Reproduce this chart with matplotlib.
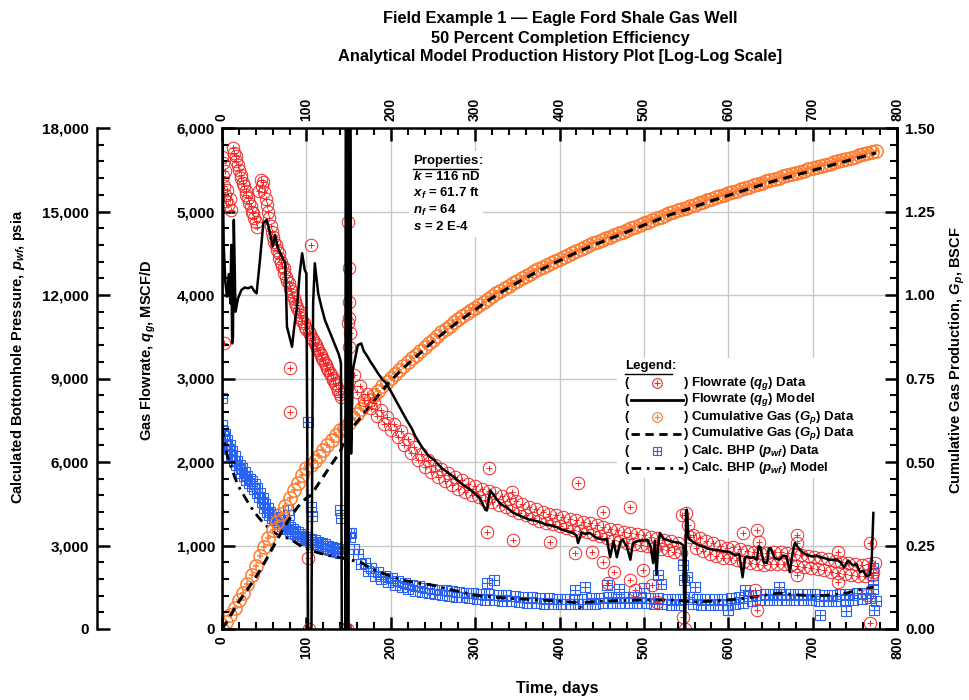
import numpy as np
import matplotlib.pyplot as plt
from matplotlib.lines import Line2D
from matplotlib.patches import Rectangle
from matplotlib.ticker import MultipleLocator, FuncFormatter

plt.rcParams['font.family'] = ['Liberation Sans', 'DejaVu Sans']
plt.rcParams['mathtext.fontset'] = 'custom'
plt.rcParams['mathtext.rm'] = 'Liberation Sans'
plt.rcParams['mathtext.it'] = 'Liberation Sans:italic'
plt.rcParams['mathtext.bf'] = 'Liberation Sans:bold'
plt.rcParams['mathtext.bfit'] = 'Liberation Sans:bold:italic'

# ---------------- data ----------------
# gas flowrate data, MSCF/D
qg_days = [0, 1, 1, 2, 2, 3, 4, 5, 6, 7, 9, 11,
           13, 14, 16, 17, 19, 20, 22, 23, 25, 26, 28, 29, 31, 32, 34, 35, 37, 38, 40, 41,
           44, 46, 47, 49, 50, 52, 53, 55, 56, 58, 59, 61, 62, 64, 65, 67, 68, 70, 71, 73,
           74, 76, 77, 79, 80, 82, 83, 85, 86, 88, 89, 91, 92, 94, 95, 97, 98, 100,
           103, 104, 107, 108, 110, 111, 113, 114, 116, 117, 119, 120, 122, 123, 125, 126,
           128, 129, 131, 132, 134, 135, 137, 138, 140, 141,
           80, 81, 102, 103, 106, 146, 148, 149, 150, 150, 151, 149, 152, 151,
           156, 160, 164, 168, 172, 176, 180, 184, 188, 192, 196, 200, 204, 208, 212, 216,
           220, 224, 228, 232, 236, 240, 244, 248, 252, 256, 260, 264, 268, 272, 276, 280,
           284, 288, 292, 296, 300, 304, 308, 312, 316, 320, 324, 328, 332, 336, 340, 344,
           348, 352, 356, 360, 364, 368, 372, 376, 380, 384, 388, 392, 396, 400, 404, 408,
           412, 416, 420, 424, 428, 432, 436, 440, 444, 448, 452, 456, 460, 464, 468, 472,
           476, 480, 484, 488, 492, 496, 500, 504, 508, 512, 516, 520, 524, 528, 532, 536,
           540, 544,
           552, 555, 558, 562, 566, 570, 574, 578, 582, 586, 590, 594, 598, 602, 606, 610,
           614, 618, 622, 626, 630, 634, 638, 642, 646, 650, 654, 658, 662, 666, 670, 674,
           678, 682, 686, 690, 694, 698, 702, 706, 710, 714, 718, 722, 726, 730, 734, 738,
           742, 746, 750, 754, 758, 762, 766, 770, 774,
           314, 316, 344, 345, 389, 418, 422, 438, 452, 452, 458, 464, 484, 484, 490, 499,
           510, 515, 545, 546, 549, 550, 617, 632, 634, 634, 636, 681, 681, 681, 730, 730,
           764, 768, 768, 772]
qg_data = [5650, 5580, 5420, 3420, 5300, 5480, 5200, 5120, 5260, 5080, 5150, 5020,
           5760, 5700, 5660, 5600, 5560, 5500, 5440, 5400, 5340, 5300, 5250, 5200, 5160, 5100,
           5060, 5000, 4980, 4920, 4880, 4820,
           5250, 5380, 5300, 5350, 5230, 5150, 5080, 5000, 4920, 4830, 4760, 4700, 4640, 4600,
           4540, 4500, 4440, 4400, 4350, 4320, 4260, 4220, 4170, 4140, 4080, 4050, 4000, 3970,
           3920, 3880, 3840, 3810, 3760, 3730, 3690, 3660, 3620, 3590,
           3560, 3530, 3490, 3460, 3430, 3400, 3370, 3340, 3310, 3280, 3250, 3220, 3190, 3160,
           3130, 3100, 3070, 3040, 3010, 2980, 2950, 2920, 2880, 2850, 2810, 2780,
           3130, 2600, 850, 0, 4600, 0, 0, 4870, 4320, 3920, 3720, 3660, 3550, 3380,
           3040, 2840, 2912, 2744, 2814, 2642, 2710, 2546, 2622, 2460, 2540, 2380, 2457, 2294,
           2371, 2203, 2277, 2110, 2182, 2020, 2100, 1940, 2028, 1876, 1968, 1824, 1920, 1772,
           1864, 1720, 1820, 1680, 1780, 1640, 1742, 1606, 1710, 1576, 1682, 1548, 1654, 1520,
           1624, 1488, 1592, 1456, 1560, 1424, 1528, 1392, 1496, 1360, 1464, 1328, 1432, 1296,
           1400, 1271, 1382, 1253, 1364, 1235, 1344, 1213, 1322, 1191, 1300, 1172, 1284, 1156,
           1268, 1140, 1248, 1116, 1224, 1092, 1200, 1071, 1182, 1053, 1164, 1035, 1148, 1021,
           1134, 1007, 1120, 992, 1104, 976, 1088, 960, 1071, 942, 1053, 924, 1035, 907,
           1250, 1100, 1130, 972, 1094, 935, 1057, 899, 1024, 872, 1000, 848, 976, 850,
           980, 830, 958, 806, 938, 791, 922, 775, 908, 767, 911, 775, 919, 783, 922, 778,
           912, 768, 900, 757, 889, 745, 876, 733, 864, 718, 850, 702, 834, 686, 818, 670,
           802, 654, 788, 644, 780, 636, 772, 633, 780, 647, 794,
           1160, 1930, 1640, 1070, 1040, 910, 1750, 920, 1400, 800, 550, 680, 1460, 590,
           470, 710, 530, 320, 1370, 140, 0, 1390, 1150, 470, 1190, 230, 1040, 1130,
           1030, 650, 920, 560, 410, 1030, 70, 680]

# flowrate model, MSCF/D
qm_days = [0, 0.5, 2, 4, 6, 8, 10, 11, 12, 13, 14, 16, 19, 23, 27, 31, 35, 38, 41, 45,
           49, 53, 57, 60, 63, 66, 71, 75, 77, 80, 83, 86, 89, 92, 95, 98, 100, 101, 102,
           106, 107, 108, 110, 114, 118, 122, 126, 130, 134, 138, 140, 141, 142, 146, 147,
           148, 149, 150, 151, 152, 153, 155, 158, 161, 165, 168, 172, 176, 180, 185, 190,
           195, 201, 207, 213, 219, 225, 229, 237, 244, 252, 260, 268, 276, 284, 291, 298,
           306, 312, 314, 318, 325, 331, 337, 344, 350, 357, 364, 370, 377, 384, 390, 397,
           403, 410, 416, 420, 422, 426, 431, 436, 444, 452, 456, 460, 464, 468, 472, 475,
           480, 484, 487, 492, 498, 504, 508, 511, 513, 515, 517, 519, 523, 527, 532, 537,
           543, 547, 548, 549, 550, 551, 553, 555, 560, 566, 572, 577, 582, 590, 596, 602,
           608, 613, 617, 620, 622, 626, 630, 634, 636, 638, 642, 646, 648, 650, 655, 660,
           665, 669, 673, 676, 679, 684, 689, 695, 700, 705, 709, 714, 719, 724, 729, 733,
           737, 742, 748, 752, 756, 760, 764, 768, 770, 772]
qm_model = [0, 5900, 4600, 4150, 3980, 4250, 3900, 4600, 3420, 3500, 4900, 3800, 3960, 4060,
            4090, 4080, 4100, 4050, 4020, 4420, 4860, 4900, 4740, 4580, 4720, 4570, 4460,
            4380, 3620, 3500, 3380, 3650, 3860, 4250, 4500, 4300, 4260, 2400, 0, 0, 2200,
            3900, 4380, 4020, 3850, 3700, 3600, 3500, 3400, 3300, 3230, 3180, 0, 0, 9000,
            9000, 0, 0, 9000, 9000, 2100, 3100, 3250, 3400, 3420, 3330, 3270, 3200, 3140,
            3060, 2990, 2940, 2830, 2720, 2610, 2500, 2400, 2310, 2180, 2080, 2020, 1930,
            1870, 1810, 1740, 1690, 1640, 1560, 1430, 1420, 1660, 1560, 1490, 1460, 1400,
            1370, 1340, 1310, 1300, 1280, 1250, 1240, 1220, 1190, 1170, 1150, 1120, 1030,
            1150, 1140, 1150, 1090, 1070, 1080, 860, 1050, 860, 1040, 1070, 980, 830, 1030,
            1050, 1060, 1070, 990, 790, 1060, 650, 1000, 1150, 1080, 1070, 1050, 1040, 1030,
            1000, 0, 0, 1420, 1430, 1080, 1070, 1030, 1000, 980, 960, 950, 940, 930, 920,
            880, 900, 620, 860, 870, 850, 860, 830, 990, 980, 800, 790, 960, 970, 850, 830,
            880, 870, 680, 900, 1030, 960, 910, 880, 870, 880, 860, 850, 830, 830, 830, 800,
            740, 820, 760, 780, 680, 700, 630, 650, 820, 1390]

# cumulative gas data, BSCF (every 5 days)
gp_days = list(range(0, 780, 5))
gp_data = [0.000, 0.020, 0.042, 0.064, 0.086, 0.108, 0.135, 0.162, 0.190, 0.218, 0.245,
           0.271, 0.296, 0.321, 0.345, 0.369, 0.392, 0.415, 0.438, 0.460, 0.482, 0.490,
           0.503, 0.519, 0.535, 0.551, 0.566, 0.581, 0.595, 0.603, 0.617, 0.631, 0.645,
           0.659, 0.673, 0.687, 0.700, 0.714, 0.727, 0.740, 0.752, 0.764, 0.776, 0.787,
           0.799, 0.810, 0.821, 0.833, 0.844, 0.855, 0.866, 0.877, 0.888, 0.898, 0.908,
           0.918, 0.927, 0.936, 0.945, 0.954, 0.962, 0.971, 0.980, 0.989, 0.997, 1.005,
           1.013, 1.021, 1.028, 1.036, 1.043, 1.050, 1.057, 1.064, 1.071, 1.078, 1.084,
           1.091, 1.097, 1.103, 1.109, 1.115, 1.121, 1.127, 1.133, 1.138, 1.144, 1.149,
           1.155, 1.160, 1.165, 1.170, 1.175, 1.180, 1.185, 1.190, 1.195, 1.200, 1.205,
           1.210, 1.215, 1.220, 1.225, 1.230, 1.235, 1.240, 1.245, 1.250, 1.254, 1.258,
           1.261, 1.265, 1.270, 1.274, 1.279, 1.283, 1.288, 1.292, 1.296, 1.300, 1.304,
           1.308, 1.312, 1.316, 1.320, 1.324, 1.328, 1.332, 1.336, 1.340, 1.344, 1.348,
           1.351, 1.355, 1.358, 1.362, 1.365, 1.369, 1.372, 1.376, 1.379, 1.383, 1.386,
           1.390, 1.393, 1.397, 1.400, 1.404, 1.407, 1.411, 1.414, 1.418, 1.421, 1.425,
           1.428, 1.431]

# cumulative gas model, BSCF
gpm_days = [0, 5, 10, 15, 20, 25, 30, 35, 40, 45, 50, 55, 60, 65, 70, 75, 80, 85, 90, 95,
            100, 105, 110, 115, 120, 125, 130, 135, 140, 145, 150, 155, 160, 165, 170, 175,
            180, 185, 190, 195, 200, 210, 220, 230, 240, 250, 260, 270, 280, 290, 300, 310,
            320, 330, 340, 350, 360, 370, 380, 390, 400, 410, 420, 430, 440, 450, 460, 470,
            480, 490, 500, 510, 520, 530, 540, 550, 560, 570, 580, 590, 600, 610, 620, 630,
            640, 650, 660, 670, 680, 690, 700, 710, 720, 730, 740, 750, 760, 770, 775]
gpm_model = [0.000, 0.018, 0.040, 0.062, 0.082, 0.100, 0.118, 0.136, 0.155, 0.175, 0.197,
             0.220, 0.243, 0.266, 0.288, 0.310, 0.330, 0.349, 0.366, 0.380, 0.392, 0.400,
             0.418, 0.437, 0.456, 0.475, 0.494, 0.512, 0.530, 0.565, 0.590, 0.605, 0.620,
             0.636, 0.652, 0.667, 0.683, 0.699, 0.714, 0.729, 0.743, 0.769, 0.793, 0.815,
             0.838, 0.860, 0.881, 0.901, 0.920, 0.938, 0.955, 0.974, 0.991, 1.007, 1.022,
             1.037, 1.051, 1.065, 1.078, 1.091, 1.103, 1.115, 1.127, 1.138, 1.149, 1.159,
             1.169, 1.179, 1.189, 1.199, 1.209, 1.219, 1.229, 1.239, 1.248, 1.255, 1.264,
             1.273, 1.282, 1.290, 1.298, 1.306, 1.314, 1.322, 1.330, 1.338, 1.345, 1.352,
             1.359, 1.366, 1.373, 1.380, 1.387, 1.394, 1.401, 1.408, 1.415, 1.422, 1.425]

# calculated bottomhole pressure data, psia
pwf_days = [0, 0, 1, 2, 3, 4, 5, 6, 8, 9, 11, 12, 14, 15, 17, 18, 20, 21, 23, 24, 26, 27,
            29, 30, 32, 33, 35, 36, 38, 39, 41, 42, 44, 45, 47, 48, 50, 51, 53, 54, 56, 57,
            59, 60, 62, 63, 65, 66, 68, 69, 71, 72, 74, 75, 77, 78, 80, 81, 83, 84, 86, 87,
            89, 90, 92, 93, 95, 96, 98, 99, 104, 106, 108, 110, 112, 114, 116, 118, 120, 122,
            124, 126, 128, 130, 132, 134, 136, 138, 140, 142,
            78, 79, 102, 106, 107, 140, 141, 145, 146, 147, 150, 152,
            153, 157, 161, 165, 169, 173, 177, 181, 185, 189, 193, 197, 201, 205, 209, 213,
            217, 221, 225, 229, 233, 237, 241, 245, 249, 253, 257, 261, 265, 269, 273, 277,
            281, 285, 289, 293, 297, 302, 307, 312, 317, 322, 327, 332, 337, 342, 347, 352,
            357, 362, 367, 372, 377, 382, 387, 392, 397, 402, 407, 412, 417, 422, 427, 432,
            437, 442, 447, 452, 457, 462, 467, 472, 477, 482, 487, 492, 497, 502, 507, 512,
            517, 522, 527, 532, 537, 542, 546,
            553, 558, 563, 568, 573, 578, 583, 588, 593, 598, 603, 608, 613, 618, 623, 628,
            633, 638, 643, 648, 653, 658, 663, 668, 673, 678, 683, 688, 693, 698, 703, 708,
            713, 718, 723, 728, 733, 738, 743, 748, 753, 758, 763, 768, 772,
            314, 322, 418, 430, 456, 470, 500, 517, 520, 546, 547, 551, 560, 600, 620, 660,
            709, 740, 771, 772, 773, 775]
pwf_data = [8300, 7330, 7100, 6950, 6800, 7000, 6650, 6800, 6450, 6600, 6250, 6400, 6050,
            6200, 5900, 6050, 5750, 5900, 5620, 5780, 5500, 5650, 5350, 5500, 5230, 5400,
            5130, 5300, 5030, 5200, 4900, 5080, 4750, 4900, 4550, 4700, 4350, 4500, 4200,
            4350, 4080, 4220, 3980, 4120, 3900, 4040, 3830, 3960, 3760, 3900, 3700, 3840,
            3640, 3780, 3580, 3720, 3520, 3650, 3460, 3590, 3400, 3530, 3340, 3470, 3280,
            3410, 3230, 3350, 3180, 3300, 3120, 3250, 3070, 3190, 3020, 3140, 2970, 3090,
            2920, 3040, 2870, 2990, 2830, 2940, 2790, 2900, 2750, 2860, 2720, 2820,
            4280, 4100, 7440, 4380, 4050, 4280, 4000, 0, 0, 0, 3450, 3300,
            3440, 2860, 2710, 2340, 2370, 2080, 2180, 1920, 2030, 1790, 1920, 1690, 1820,
            1590, 1730, 1510, 1650, 1440, 1590, 1380, 1530, 1325, 1485, 1285, 1445, 1250,
            1415, 1220, 1385, 1190, 1355, 1160, 1325, 1132, 1300, 1108, 1276, 1075, 1267,
            1059, 1251, 1043, 1235, 1022, 1215, 1004, 1190, 977, 1163, 950, 1136, 922, 1108,
            898, 1096, 894, 1092, 890, 1087, 885, 1083, 882, 1091, 897, 1107, 915, 1124, 932,
            1140, 940, 1140, 940, 1140, 940, 1140, 940, 1140, 932, 1124, 910, 1102, 895,
            1087, 880, 1078, 875, 1070,
            1160, 900, 1080, 860, 1080, 860, 1080, 860, 1080, 860, 1102, 905, 1147, 950, 1192,
            995, 1237, 1030, 1260, 1040, 1260, 1040, 1260, 1040, 1260, 1040, 1258, 1033, 1249,
            1025, 1240, 1016, 1231, 1006, 1232, 1020, 1249, 1037, 1266, 1055, 1285, 1075,
            1306, 1130, 1440,
            1650, 1750, 1400, 1500, 1580, 1450, 1480, 1940, 1600, 2300, 1760, 1870, 1500, 700,
            1400, 1500, 500, 650, 1760, 2200, 680, 1000]

# bottomhole pressure model, psia
pwm_days = [0, 3, 6, 10, 15, 20, 27, 35, 43, 50, 57, 63, 70, 75, 80, 85, 95, 102, 110, 125,
            135, 142, 148, 155, 166, 178, 190, 200, 213, 230, 249, 265, 284, 298, 320, 340,
            360, 377, 400, 415, 420, 424, 428, 440, 450, 470, 495, 515, 535, 549, 563, 580,
            600, 622, 640, 661, 680, 701, 720, 740, 764, 772]
pwm_model = [7250, 6700, 6250, 5900, 5460, 5100, 4740, 4350, 4020, 3780, 3580, 3450, 3300,
             3280, 3260, 3150, 2950, 2870, 2770, 2650, 2590, 2550, 2500, 2460, 2370, 2150,
             2010, 1900, 1760, 1660, 1580, 1450, 1330, 1220, 1150, 1100, 1070, 1040, 1000,
             960, 940, 760, 950, 980, 1000, 1020, 1040, 1040, 1040, 1000, 970, 1000, 1040,
             1110, 1200, 1290, 1230, 1190, 1220, 1290, 1470, 1500]

properties = ["116 nD", "61.7 ft", "64", "2 E-4"]

RED = '#f02828'
ORANGE = '#ff7a2e'
BLUE = '#2a63f2'

# ---------------- figure ----------------
W, H = 969, 700
fig = plt.figure(figsize=(W / 100, H / 100), dpi=100)


def fx(px):
    return px / W


def fy(py):
    return 1 - py / H


pos = [fx(222), fy(629), 675 / W, 501 / H]

ax_bg = fig.add_axes(pos, zorder=0)
ax_p = fig.add_axes(pos, zorder=1)
ax_g = fig.add_axes(pos, zorder=2)
ax = fig.add_axes(pos, zorder=3)

for a in (ax_bg, ax_p, ax_g, ax):
    a.set_xlim(0, 800)
for a in (ax_p, ax_g, ax):
    a.patch.set_visible(False)

# background: grid only
ax_bg.set_ylim(0, 6000)
ax_bg.xaxis.set_major_locator(MultipleLocator(100))
ax_bg.yaxis.set_major_locator(MultipleLocator(1000))
ax_bg.set_axisbelow(True)
ax_bg.grid(True, color='#c8c8c8', lw=1.0)
ax_bg.tick_params(which='both', length=0, labelleft=False, labelbottom=False)
for s in ax_bg.spines.values():
    s.set_visible(False)
# white boxes behind the annotation blocks
ax_bg.add_patch(Rectangle((fx(409), fy(237)), fx(483) - fx(409), fy(151) - fy(237),
                          transform=fig.transFigure, facecolor='white', edgecolor='none',
                          zorder=1, clip_on=False))
ax_bg.add_patch(Rectangle((fx(617), fy(478)), fx(892) - fx(617), fy(358) - fy(478),
                          transform=fig.transFigure, facecolor='white', edgecolor='none',
                          zorder=1, clip_on=False))

tick_font = dict(fontsize=11, fontweight='bold')


def style_ticks(a, axis):
    a.tick_params(axis=axis, which='major', direction='in', length=9, width=1.8)
    a.tick_params(axis=axis, which='minor', direction='in', length=5, width=1.5)


def plus_marks(a, t, v, color, shape, ms, pms, mew=0.8):
    a.plot(t, v, ls='none', marker=shape, ms=ms, mfc='none', mec=color, mew=mew)
    a.plot(t, v, ls='none', marker='+', ms=pms, mec=color, mew=mew)


# pressure axis (far left)
ax_p.set_ylim(0, 18000)
ax_p.xaxis.set_visible(False)
for k in ('right', 'top', 'bottom'):
    ax_p.spines[k].set_visible(False)
ax_p.spines['left'].set_position(('axes', (97 - 222) / 675))
ax_p.spines['left'].set_linewidth(1.8)
ax_p.yaxis.set_major_locator(MultipleLocator(3000))
ax_p.yaxis.set_minor_locator(MultipleLocator(600))
ax_p.yaxis.set_major_formatter(FuncFormatter(lambda v, _: f'{v:,.0f}'))
style_ticks(ax_p, 'y')
ax_p.tick_params(axis='y', pad=6)
for lab in ax_p.get_yticklabels():
    lab.set(**tick_font)
plus_marks(ax_p, pwf_days, pwf_data, BLUE, 's', 7.5, 7.5)
ax_p.plot(pwm_days, pwm_model, color='black', lw=2.0, ls=(0, (3.5, 2, 1, 2)))

# cumulative gas axis (right)
ax_g.set_ylim(0, 1.5)
ax_g.xaxis.set_visible(False)
for k in ('left', 'top', 'bottom'):
    ax_g.spines[k].set_visible(False)
ax_g.spines['right'].set_linewidth(1.8)
ax_g.yaxis.tick_right()
ax_g.yaxis.set_major_locator(MultipleLocator(0.25))
ax_g.yaxis.set_minor_locator(MultipleLocator(0.05))
ax_g.yaxis.set_major_formatter(FuncFormatter(lambda v, _: f'{v:.2f}'))
style_ticks(ax_g, 'y')
ax_g.tick_params(axis='y', which='both', left=False, right=True, pad=6)
for lab in ax_g.get_yticklabels():
    lab.set(**tick_font)
plus_marks(ax_g, gp_days, gp_data, ORANGE, 'o', 9.5, 5, mew=1.1)
ax_g.plot(gpm_days, gpm_model, color='black', lw=2.2, ls=(0, (3, 2)))

# main axis: flowrate and time
ax.set_ylim(0, 6000)
ax.xaxis.set_major_locator(MultipleLocator(100))
ax.xaxis.set_minor_locator(MultipleLocator(20))
ax.yaxis.set_major_locator(MultipleLocator(1000))
ax.yaxis.set_minor_locator(MultipleLocator(200))
ax.yaxis.set_major_formatter(FuncFormatter(lambda v, _: f'{v:,.0f}'))
for s in ax.spines.values():
    s.set_linewidth(1.8)
style_ticks(ax, 'x')
style_ticks(ax, 'y')
ax.tick_params(axis='x', which='both', top=True, bottom=True, labeltop=True,
               labelbottom=True, labelrotation=90, pad=5, labelsize=10)
ax.tick_params(axis='y', which='both', left=True, right=False, pad=5)
for lab in ax.get_yticklabels():
    lab.set(**tick_font)
for t in ax.xaxis.get_major_ticks():
    t.label1.set_fontweight('bold')
    t.label2.set_fontweight('bold')
plus_marks(ax, qg_days, qg_data, RED, 'o', 9, 4.5, mew=0.7)
ax.plot(qm_days, qm_model, color='black', lw=1.8)

# ---------------- text ----------------
title_kw = dict(ha='center', va='center', fontsize=11.8, fontweight='bold')
fig.text(fx(560), fy(18), 'Field Example 1 \u2014 Eagle Ford Shale Gas Well', **title_kw)
fig.text(fx(560), fy(38), '50 Percent Completion Efficiency', **title_kw)
fig.text(fx(560), fy(57), 'Analytical Model Production History Plot [Log-Log Scale]', **title_kw)

lab_kw = dict(ha='center', va='center', fontsize=10.5, rotation=90, fontweight='bold')
fig.text(fx(18), fy(357), r'Calculated Bottomhole Pressure, $\mathbfit{p_{wf}}$, psia', **lab_kw)
fig.text(fx(148), fy(350), r'Gas Flowrate, $\mathbfit{q_g}$, MSCF/D', **lab_kw)
fig.text(fx(957), fy(360), r'Cumulative Gas Production, $\mathbfit{G_p}$, BSCF', **lab_kw)
fig.text(fx(557), fy(688), 'Time, days', ha='center', va='center', fontsize=11.5,
         fontweight='bold')

renderer = fig.canvas.get_renderer()


def underlined(x, y, word, size):
    txt = fig.text(fx(x), fy(y), word, ha='left', va='center', fontsize=size,
                   fontweight='bold', zorder=10)
    bb = txt.get_window_extent(renderer)
    fig.text(bb.x1 / W, fy(y), ':', ha='left', va='center', fontsize=size,
             fontweight='bold', zorder=10)
    fig.add_artist(Line2D([bb.x0 / W, bb.x1 / W], [(bb.y0 - 1.5) / H] * 2,
                          color='black', lw=1.0, zorder=10))


# properties block
prop_size = 9.5
underlined(413, 161, 'Properties', prop_size)
prop_names = [r'$\mathbfit{k}$', r'$\mathbfit{x_f}$', r'$\mathbfit{n_f}$', r'$\mathbfit{s}$']
for i, (nm, val) in enumerate(zip(prop_names, properties)):
    fig.text(fx(413), fy(177 + 16.5 * i), f'{nm} = {val}', ha='left', va='center',
             fontsize=prop_size, fontweight='bold', zorder=10)

# legend block
leg_size = 9.5
underlined(625, 366, 'Legend', leg_size)
leg_labels = [r'Flowrate ($\mathbfit{q_g}$) Data', r'Flowrate ($\mathbfit{q_g}$) Model',
              r'Cumulative Gas ($\mathbfit{G_p}$) Data', r'Cumulative Gas ($\mathbfit{G_p}$) Data',
              r'Calc. BHP ($\mathbfit{p_{wf}}$) Data', r'Calc. BHP ($\mathbfit{p_{wf}}$) Model']
leg_styles = [('mark', RED, 'o'), ('line', '-'), ('mark', ORANGE, 'o'),
              ('line', (0, (3, 2))), ('mark', BLUE, 's'), ('line', (0, (3.5, 2, 1, 2)))]
for i, (lab, sty) in enumerate(zip(leg_labels, leg_styles)):
    yy = 383 + 17 * i
    fig.text(fx(624), fy(yy), '(', ha='left', va='center', fontsize=leg_size,
             fontweight='bold', zorder=10)
    fig.text(fx(684), fy(yy), ')', ha='left', va='center', fontsize=leg_size,
             fontweight='bold', zorder=10)
    fig.text(fx(691), fy(yy), lab, ha='left', va='center', fontsize=leg_size,
             fontweight='bold', zorder=10)
    if sty[0] == 'mark':
        ms = 7 if sty[2] == 'o' else 6
        pms = 4 if sty[2] == 'o' else 6
        fig.add_artist(Line2D([fx(657)], [fy(yy)], ls='none', marker=sty[2], ms=ms,
                              mfc='none', mec=sty[1], mew=0.8, zorder=10))
        fig.add_artist(Line2D([fx(657)], [fy(yy)], ls='none', marker='+', ms=pms,
                              mec=sty[1], mew=0.8, zorder=10))
    else:
        fig.add_artist(Line2D([fx(631), fx(683)], [fy(yy)] * 2, color='black', lw=2.0,
                              ls=sty[1], zorder=10))

fig.savefig('out.png', dpi=100)
